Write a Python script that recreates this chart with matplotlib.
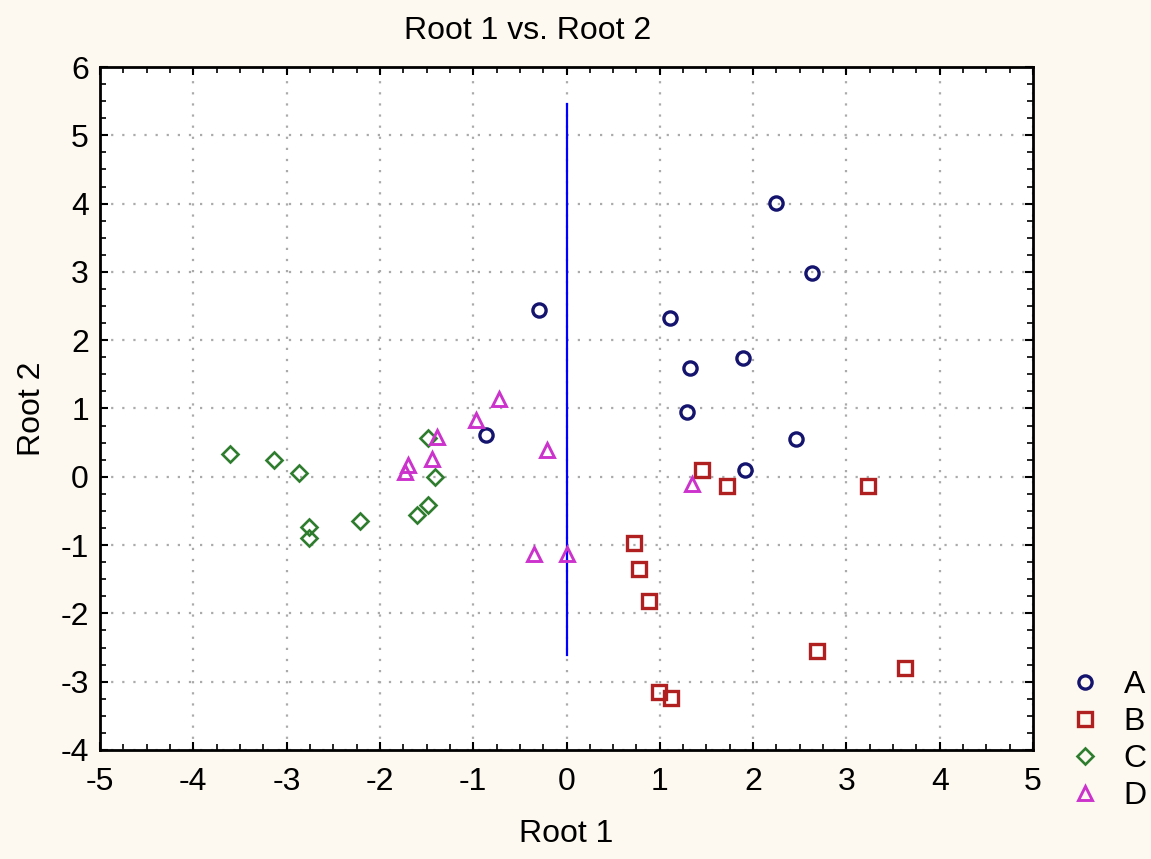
import matplotlib
matplotlib.use("Agg")
import matplotlib.pyplot as plt
from matplotlib.ticker import MultipleLocator

plt.rcParams['font.family'] = ['Liberation Sans', 'DejaVu Sans']
plt.rcParams['axes.unicode_minus'] = False

# Data
A_x = [2.25, 2.63, -0.30, 1.11, 1.89, 1.32, 1.29, 2.46, -0.86, 1.91]
A_y = [4.01, 2.98, 2.44, 2.33, 1.74, 1.59, 0.95, 0.55, 0.61, 0.10]
B_x = [1.45, 1.72, 3.23, 0.72, 0.78, 0.88, 2.68, 3.63, 0.99, 1.12]
B_y = [0.10, -0.13, -0.13, -0.97, -1.35, -1.82, -2.55, -2.80, -3.15, -3.24]
C_x = [-3.61, -3.14, -2.87, -2.76, -2.76, -2.21, -1.60, -1.49, -1.48, -1.41]
C_y = [0.33, 0.24, 0.05, -0.73, -0.89, -0.65, -0.56, -0.41, 0.57, -0.01]
D_x = [-0.72, -0.97, -1.39, -0.21, -1.44, -1.70, -1.73, -0.35, 0.00, 1.35]
D_y = [1.14, 0.83, 0.58, 0.39, 0.26, 0.17, 0.07, -1.13, -1.13, -0.10]
line_x = [0, 0]
line_y = [5.46, -2.61]
x_ticks = [-5, -4, -3, -2, -1, 0, 1, 2, 3, 4, 5]
y_ticks = [-4, -3, -2, -1, 0, 1, 2, 3, 4, 5, 6]

bg = '#fdf9f0'
fig = plt.figure(figsize=(11.51, 8.59), dpi=100, facecolor=bg)
ax = fig.add_axes([0.0869, 0.1269, 0.8106, 0.7951])
ax.set_facecolor('white')

ax.plot(line_x, line_y, color='#0000ff', lw=1.6, zorder=2)

ax.plot(A_x, A_y, 'o', ms=9.5, mfc='none', mec='#14146e', mew=2.4, ls='none', label='A', zorder=3)
ax.plot(B_x, B_y, 's', ms=10, mfc='none', mec='#b02020', mew=2.4, ls='none', label='B', zorder=3)
ax.plot(C_x, C_y, 'D', ms=8.5, mfc='none', mec='#2e7d2e', mew=1.9, ls='none', label='C', zorder=3)
ax.plot(D_x, D_y, '^', ms=10.5, mfc='none', mec='#cc33cc', mew=2.1, ls='none', label='D', zorder=3)

ax.set_xlim(-5, 5)
ax.set_ylim(-4, 6)
ax.set_xticks(x_ticks)
ax.set_yticks(y_ticks)
ax.xaxis.set_minor_locator(MultipleLocator(0.25))
ax.yaxis.set_minor_locator(MultipleLocator(0.25))
ax.tick_params(which='both', direction='in', top=True, right=True, color='black')
ax.tick_params(which='major', length=6, width=1.5, labelsize=23, pad=12)
ax.tick_params(which='minor', length=4, width=1.2)
ax.tick_params(axis='y', which='major', pad=8)
ax.grid(True, which='major', color='#aaaaaa', linestyle=(0, (1, 4)), linewidth=1.6)
for s in ax.spines.values():
    s.set_linewidth(2)
    s.set_color('black')

ax.set_title('Root 1 vs. Root 2', fontsize=23, pad=20, x=0.458)
ax.set_xlabel('Root 1', fontsize=23, labelpad=16)
ax.set_ylabel('Root 2', fontsize=23, labelpad=10)

fig.legend(loc='upper left', bbox_to_anchor=(0.915, 0.235), frameon=False,
           fontsize=23, handletextpad=0.6, labelspacing=0.22, handlelength=1.2,
           borderaxespad=0)

fig.savefig('out.png', dpi=100, facecolor=bg)
